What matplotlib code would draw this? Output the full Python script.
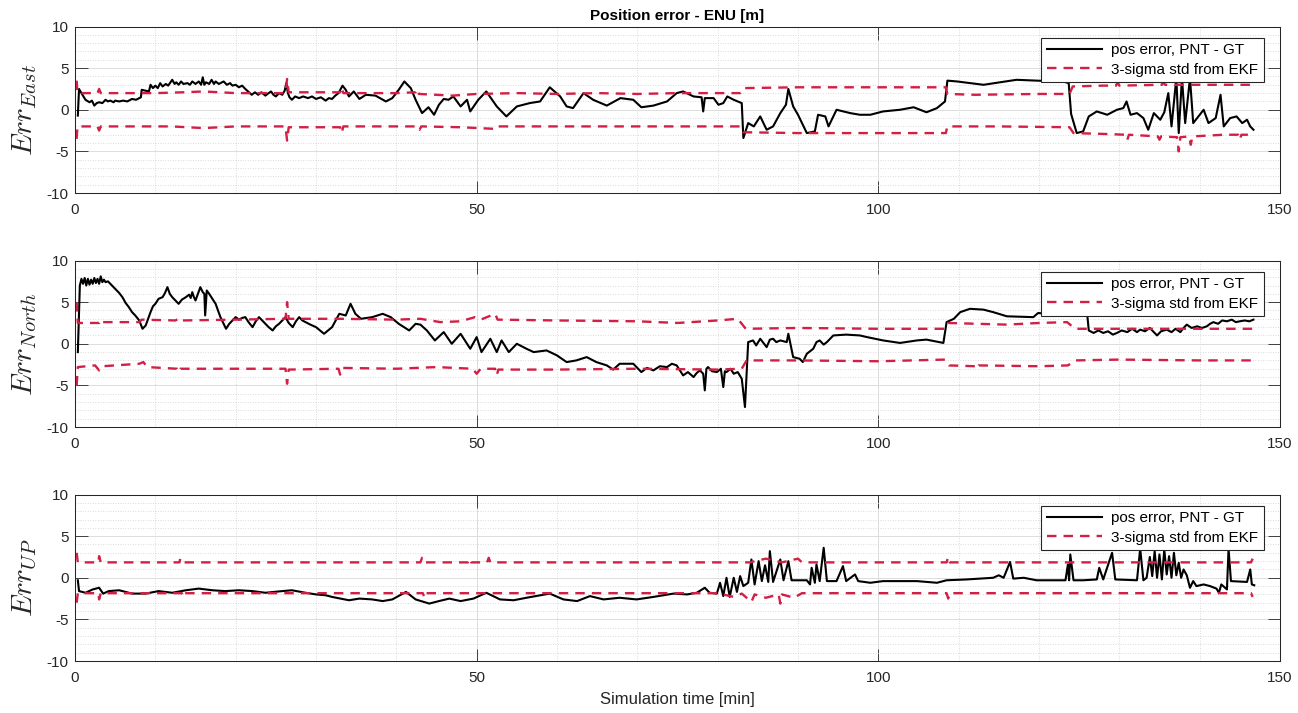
import numpy as np
import matplotlib.pyplot as plt
from matplotlib.ticker import MultipleLocator

plt.rcParams['font.family'] = ['Liberation Sans', 'DejaVu Sans']
plt.rcParams['mathtext.fontset'] = 'cm'
plt.rcParams['axes.unicode_minus'] = False

# (time [min], value [m])
east_err = [
    (0.35, -0.7), (0.5, 2.5), (0.8, 2.0), (1.3, 1.2), (1.8, 0.9), (2.1, 1.1), (2.4, 0.5), (2.7, 0.8),
    (3.0, 0.9), (3.4, 0.8), (3.8, 1.2), (4.1, 1.0), (4.4, 1.1), (4.8, 0.9), (5.0, 1.1), (5.5, 1.0),
    (6.0, 1.1), (6.5, 1.0), (7.1, 1.3), (7.6, 1.2), (8.2, 1.5), (8.3, 2.4), (9.2, 2.2), (9.4, 3.0),
    (9.7, 2.6), (10.0, 2.9), (10.3, 2.6), (10.6, 3.2), (10.9, 2.8), (11.3, 3.1), (11.6, 2.9), (12.1, 3.6),
    (12.4, 3.1), (12.6, 3.3), (12.9, 3.0), (13.2, 3.4), (13.5, 3.1), (14.0, 3.2), (14.3, 3.0), (14.6, 3.4),
    (15.0, 3.1), (15.4, 3.4), (15.7, 3.0), (15.9, 3.9), (16.1, 3.0), (16.3, 3.3), (16.7, 3.1), (17.0, 3.6),
    (17.3, 3.1), (17.5, 3.4), (17.9, 3.1), (18.5, 3.4), (18.9, 3.0), (19.3, 3.2), (19.6, 2.9), (20.0, 3.0),
    (20.4, 2.7), (20.8, 2.9), (21.2, 2.5), (22.0, 1.8), (22.4, 2.1), (22.8, 1.8), (23.2, 2.1), (23.7, 1.7),
    (24.1, 2.0), (24.4, 2.2), (24.7, 1.8), (25.0, 1.6), (25.4, 2.0), (25.8, 1.8), (26.1, 2.3), (26.3, 3.2),
    (26.5, 2.0), (26.7, 1.5), (27.0, 1.2), (27.4, 1.6), (27.9, 1.4), (28.4, 1.6), (29.0, 1.4), (29.5, 1.6),
    (30.0, 1.3), (30.6, 1.5), (31.2, 1.1), (31.6, 1.4), (32.0, 1.3), (32.4, 1.7), (32.8, 2.0), (33.3, 2.9),
    (33.7, 2.4), (34.1, 1.6), (34.7, 2.2), (35.4, 1.3), (36.2, 1.8), (37.4, 1.7), (38.7, 1.0), (39.5, 1.4),
    (40.3, 2.4), (41.0, 3.4), (41.8, 2.6), (42.4, 1.2), (43.2, -0.4), (44.0, 0.3), (44.7, -0.6), (45.3, 0.6),
    (45.9, 1.3), (46.5, 1.2), (47.1, 1.6), (48.0, 0.4), (48.8, 1.2), (49.2, -0.2), (50.2, 1.2), (51.2, 2.2),
    (52.5, 0.4), (53.7, -0.8), (55.0, 0.4), (56.6, 0.8), (57.9, 1.0), (59.1, 2.7), (60.4, 1.6), (61.2, 0.4),
    (62.0, 0.2), (63.3, 2.0), (64.5, 1.2), (66.2, 0.5), (67.9, 1.4), (69.5, 1.2), (70.5, 0.3), (72.0, 0.5),
    (73.7, 1.0), (74.9, 2.0), (75.7, 2.2), (77.0, 1.6), (78.0, 1.5), (78.2, -0.2), (78.4, 1.4), (79.5, 1.4),
    (80.1, 0.6), (80.7, 0.8), (81.2, 1.6), (82.0, 1.2), (83.0, 0.8), (83.2, -3.4), (83.8, -1.6), (84.5, -2.0),
    (85.3, -0.8), (86.1, -2.4), (86.9, -2.0), (87.8, -0.4), (88.5, 0.6), (88.8, 2.5), (89.4, 0.4), (90.0, -0.6),
    (91.1, -2.8), (92.1, -2.6), (92.5, -0.6), (93.4, -0.8), (93.8, -2.0), (94.8, 0.0), (96.5, -0.4), (97.7, -0.6),
    (99.0, -0.6), (100.6, -0.2), (102.7, 0.0), (104.4, 0.3), (106.0, -0.3), (107.3, 0.2), (108.3, 1.0), (108.6, 3.5),
    (109.8, 3.4), (113.1, 3.0), (117.2, 3.6), (119.7, 3.5), (123.0, 3.4), (123.7, 3.2), (124.0, -0.5), (124.7, -2.8),
    (125.5, -2.6), (126.2, -0.8), (127.2, -0.2), (128.5, -0.6), (129.7, 0.0), (130.5, 0.2), (130.9, 1.0), (131.4, -0.6),
    (132.2, -0.4), (133.0, -1.0), (133.6, -2.4), (134.3, -0.4), (135.1, -1.2), (135.6, -0.3), (136.1, 2.0), (136.5, -2.0),
    (137.1, 3.8), (137.4, -2.8), (137.8, 3.8), (138.2, -1.6), (138.8, 3.8), (139.2, -1.6), (140.5, 0.0), (141.1, -1.6),
    (142.0, -1.0), (142.6, 1.8), (143.0, -2.0), (143.8, -1.0), (144.6, -0.8), (145.3, -1.6), (145.9, -1.2), (146.3, -2.0),
    (146.7, -2.4),
]
east_sig_hi = [
    (0.2, 3.5), (0.3, 2.0), (2.8, 2.0), (3.0, 2.5), (3.2, 2.0), (10, 2.0), (13.5, 2.1), (16, 2.2), (20, 2.0),
    (26.2, 2.0), (26.4, 3.7), (26.6, 2.1), (33.0, 2.1), (33.2, 2.7), (33.4, 2.0), (40, 2.0), (42.4, 2.1),
    (42.6, 2.5), (42.8, 1.9), (47, 1.7), (50, 1.9), (55, 2.0), (60, 1.9), (65, 2.0), (70, 1.9), (75, 2.0),
    (80, 2.0), (82.8, 2.0), (83.2, 2.6), (90, 2.7), (100, 2.7), (108.4, 2.7), (108.6, 1.9), (112, 1.8),
    (120, 1.9), (123.8, 1.9), (124.2, 2.8), (128, 2.9), (129.6, 2.9), (129.8, 3.3), (130.0, 2.9), (135.3, 3.0),
    (135.5, 3.3), (135.7, 3.0), (140, 3.0), (146.7, 3.0),
]
east_sig_lo = [
    (0.2, -3.5), (0.3, -2.0), (2.8, -2.0), (3.0, -2.5), (3.2, -2.0), (12, -2.0), (16, -2.2), (20, -2.0),
    (26.2, -2.0), (26.4, -3.7), (26.6, -2.1), (33.0, -2.1), (33.2, -2.8), (33.4, -2.0), (42.7, -2.0),
    (42.9, -2.4), (43.1, -2.0), (48, -2.1), (52.4, -2.3), (52.6, -2.0), (60, -2.0), (70, -2.0), (80, -2.0),
    (82.9, -2.0), (83.2, -2.7), (90, -2.8), (100, -2.8), (108.4, -2.8), (108.6, -2.0), (115, -2.0),
    (123.8, -2.1), (124.3, -2.8), (128, -2.9), (130.8, -3.0), (131.0, -3.6), (131.2, -3.0), (134.8, -3.2),
    (135.0, -3.6), (135.2, -3.2), (137.2, -3.3), (137.4, -5.0), (137.6, -3.3), (138.7, -3.2), (138.9, -4.2),
    (139.1, -3.2), (143, -3.0), (144.8, -3.0), (145.0, -3.6), (145.2, -3.0), (146.7, -3.0),
]

north_err = [
    (0.35, -1.0), (0.6, 7.0), (0.8, 7.8), (1.0, 7.2), (1.2, 7.9), (1.4, 7.0), (1.6, 7.8), (1.8, 7.1),
    (2.0, 7.7), (2.2, 7.2), (2.4, 7.9), (2.6, 7.3), (2.8, 7.8), (3.0, 7.2), (3.2, 8.1), (3.4, 7.4),
    (3.6, 7.7), (3.8, 7.4), (4.1, 7.5), (4.6, 7.0), (5.0, 6.6), (5.5, 6.1), (5.9, 5.6), (6.3, 4.9),
    (6.7, 4.4), (7.1, 3.8), (7.5, 3.4), (8.0, 2.8), (8.4, 1.8), (8.8, 2.2), (9.4, 3.8), (9.7, 4.5),
    (10.0, 4.8), (10.4, 5.4), (10.9, 5.6), (11.2, 6.1), (11.5, 6.8), (11.8, 6.0), (12.1, 5.6), (12.5, 5.2),
    (12.9, 4.8), (13.3, 5.3), (13.8, 5.6), (14.2, 5.9), (14.4, 5.5), (14.6, 6.2), (14.8, 5.6), (15.0, 5.2),
    (15.3, 6.0), (15.6, 6.8), (15.9, 6.2), (16.1, 6.0), (16.2, 3.4), (16.4, 6.4), (16.7, 6.0), (17.1, 5.4),
    (17.5, 4.8), (18.1, 3.2), (18.8, 1.8), (19.2, 2.4), (19.6, 2.8), (20.0, 3.2), (20.4, 2.9), (20.8, 3.1),
    (21.2, 3.2), (21.6, 2.6), (22.1, 2.0), (22.5, 2.7), (22.9, 3.2), (23.3, 2.8), (23.7, 2.4), (24.1, 2.0),
    (24.6, 1.6), (25.0, 2.1), (25.4, 2.4), (25.8, 2.8), (26.2, 3.2), (26.6, 2.5), (27.1, 2.0), (27.5, 2.7),
    (27.9, 3.2), (28.3, 2.8), (28.7, 2.6), (29.3, 2.3), (30.0, 2.0), (30.5, 1.6), (31.0, 1.2), (31.5, 1.6),
    (32.0, 2.0), (32.9, 3.6), (33.7, 3.4), (34.3, 4.8), (34.9, 3.6), (35.6, 3.0), (37.0, 3.2), (38.3, 3.6),
    (39.3, 3.2), (40.3, 2.4), (41.6, 1.6), (42.4, 2.4), (43.0, 2.3), (43.8, 1.6), (44.8, 0.4), (45.9, 1.4),
    (46.9, 0.0), (48.0, 1.2), (49.2, -0.6), (50.0, 0.8), (50.6, -1.0), (51.7, 0.6), (52.5, -1.0), (53.1, 0.4),
    (54.0, -1.0), (55.0, 0.0), (56.2, -0.6), (57.1, -1.0), (58.7, -0.8), (60.0, -1.4), (61.2, -2.2), (62.4, -2.0),
    (63.7, -1.6), (64.9, -2.2), (66.2, -2.6), (67.0, -3.1), (67.8, -2.4), (69.5, -2.4), (70.5, -3.4), (71.2, -2.9),
    (72.0, -3.2), (72.8, -2.7), (73.7, -2.8), (74.3, -2.4), (74.9, -2.6), (75.7, -3.8), (76.3, -3.4), (77.0, -4.0),
    (77.4, -3.5), (77.8, -3.2), (78.2, -3.6), (78.4, -5.6), (78.6, -3.0), (78.8, -2.8), (79.3, -3.3), (79.9, -3.4),
    (80.4, -3.0), (80.7, -5.2), (80.9, -3.3), (81.1, -3.4), (81.6, -3.0), (82.0, -3.6), (82.5, -3.4), (83.0, -4.2),
    (83.4, -7.6), (83.8, 0.2), (84.4, 0.4), (84.8, -0.2), (85.3, 0.6), (85.7, 0.1), (86.1, -0.4), (86.5, 0.5),
    (86.9, 0.6), (87.3, 0.2), (87.8, 0.4), (88.6, 0.2), (88.8, 1.2), (89.4, -1.6), (90.2, -1.8), (90.6, -2.2),
    (91.1, -1.2), (91.9, -0.6), (92.3, 0.2), (92.7, 0.4), (93.2, -0.1), (93.6, 0.2), (94.4, 1.0), (96.0, 1.1),
    (97.7, 1.0), (98.6, 0.8), (100.6, 0.4), (102.7, 0.1), (104.8, 0.4), (106.0, 0.5), (108.1, 0.1), (108.5, 2.6),
    (109.4, 3.0), (110.2, 3.8), (111.4, 4.2), (113.1, 4.1), (114.3, 3.8), (116.0, 3.3), (119.3, 3.2), (119.9, 3.7),
    (121.0, 3.6), (124.0, 3.7), (126.0, 3.6), (126.2, 1.6), (126.8, 1.3), (127.4, 1.6), (128.0, 1.3), (128.6, 1.5),
    (129.2, 1.1), (129.7, 1.3), (130.3, 1.6), (131.0, 1.4), (131.6, 1.8), (132.2, 1.4), (132.6, 1.7), (133.2, 1.5),
    (133.8, 1.9), (134.3, 1.4), (134.7, 1.0), (135.2, 1.5), (135.9, 1.7), (136.5, 1.4), (137.0, 1.8), (137.6, 1.4),
    (138.0, 1.9), (138.4, 2.3), (139.0, 1.9), (139.7, 2.1), (140.3, 1.9), (140.9, 2.1), (141.3, 2.4), (141.7, 2.6),
    (142.3, 2.4), (142.8, 2.8), (143.4, 2.7), (144.0, 2.9), (144.5, 2.6), (145.0, 2.7), (145.6, 2.8), (146.2, 2.7),
    (146.7, 2.9),
]
north_sig_hi = [
    (0.2, 5.0), (0.35, 2.5), (3.0, 2.5), (3.2, 2.9), (3.4, 2.6), (8.0, 2.6), (8.3, 2.9), (12.5, 2.8),
    (13.0, 3.1), (13.3, 2.8), (20, 2.9), (26.2, 3.0), (26.4, 5.0), (26.6, 3.0), (33, 3.0), (40, 2.9),
    (43, 3.0), (45.5, 2.6), (48, 2.7), (49.8, 3.2), (50.5, 2.9), (52.3, 3.6), (52.6, 2.9), (60, 2.8),
    (70, 2.7), (75, 2.5), (80, 2.8), (82.5, 3.0), (83.5, 1.8), (90, 1.9), (100, 1.8), (108.3, 1.8),
    (108.7, 2.5), (112.3, 2.4), (116, 2.3), (120, 2.5), (123.5, 2.6), (124.5, 1.8), (130, 1.8), (140, 1.8),
    (146.7, 1.8),
]
north_sig_lo = [
    (0.2, -5.0), (0.35, -2.8), (2.5, -2.6), (3.0, -3.2), (3.4, -2.7), (8.0, -2.4), (8.5, -2.2), (9.0, -2.8),
    (12.7, -3.0), (12.9, -3.4), (13.1, -3.0), (20, -3.0), (26.2, -3.0), (26.4, -4.8), (26.6, -3.1), (32.8, -3.0),
    (33.0, -3.7), (33.3, -2.9), (40, -3.0), (45, -2.8), (49.5, -3.0), (50.0, -3.6), (50.5, -3.0), (52.3, -3.0),
    (52.5, -3.8), (52.7, -3.1), (60, -3.1), (70, -3.0), (80, -3.1), (83.0, -3.0), (83.6, -2.0), (90, -2.0),
    (100, -2.1), (108.3, -1.9), (108.8, -2.6), (112.1, -2.7), (112.3, -3.0), (112.5, -2.6), (120, -2.7),
    (123.6, -2.6), (124.5, -2.0), (130, -1.9), (140, -2.0), (146.7, -2.0),
]

up_err = [
    (0.35, -0.3), (0.5, -1.6), (1.3, -1.8), (2.2, -1.4), (3.0, -1.2), (3.5, -1.9), (4.2, -1.6), (5.5, -1.5),
    (7.1, -1.9), (8.8, -1.9), (10.4, -1.6), (12.1, -1.8), (13.8, -1.5), (15.4, -1.3), (17.1, -1.5), (18.7, -1.6),
    (20.4, -1.5), (22.1, -1.6), (23.7, -1.8), (25.8, -1.6), (27.0, -1.5), (28.7, -1.8), (30.0, -2.0), (31.2, -2.1),
    (32.0, -2.3), (34.1, -2.7), (35.4, -2.5), (37.0, -2.6), (38.3, -2.8), (39.5, -2.6), (41.2, -1.7), (42.4, -2.6),
    (44.1, -3.1), (45.3, -2.8), (46.6, -2.5), (48.0, -2.8), (49.6, -2.5), (51.2, -1.8), (52.9, -2.6), (54.6, -2.7),
    (56.2, -2.4), (59.1, -1.9), (60.8, -2.6), (62.5, -2.8), (64.1, -2.2), (65.8, -2.6), (67.8, -2.4), (69.9, -2.6),
    (72.0, -2.3), (74.5, -1.9), (76.2, -2.0), (77.4, -1.8), (78.4, -1.2), (79.0, -1.8), (79.9, -1.9), (80.3, -0.6),
    (80.7, -2.2), (81.1, 0.0), (81.5, -2.3), (82.0, 0.0), (82.4, -1.7), (82.8, 0.2), (83.2, -1.0), (83.8, -0.6),
    (84.2, 2.2), (84.6, -0.8), (85.1, 2.0), (85.5, -0.4), (85.9, 1.5), (86.3, -0.5), (86.5, 3.2), (86.9, -0.5),
    (87.8, 2.2), (88.2, -0.3), (88.8, 2.0), (89.2, -0.3), (91.1, -0.3), (91.5, -0.8), (91.7, 1.2), (92.1, -0.6),
    (92.3, 1.6), (92.7, -0.4), (93.2, 3.6), (93.6, -0.4), (94.8, -0.4), (95.6, 1.4), (96.0, -0.4), (97.1, 0.4),
    (97.5, -0.4), (99.0, -0.6), (100.6, -0.4), (104.8, -0.4), (107.3, -0.6), (108.5, -0.3), (111.0, -0.2), (114.3, 0.0),
    (115.0, 0.3), (115.6, 0.0), (116.4, 1.9), (116.8, -0.1), (118.1, 0.0), (119.7, -0.3), (123.3, -0.3), (123.6, 1.6),
    (123.75, -0.3), (123.9, 2.8), (124.3, -0.3), (125.5, -0.3), (127.2, -0.2), (127.5, 1.2), (128.0, -0.2), (129.1, 3.0),
    (129.5, -0.2), (132.2, -0.3), (132.6, 3.5), (133.0, -0.3), (133.4, 0.0), (133.8, 2.5), (134.1, 0.2), (134.4, 3.2),
    (134.7, 0.0), (135.0, 2.8), (135.3, -0.2), (135.6, 3.4), (135.9, 0.4), (136.2, 2.6), (136.5, 0.0), (136.8, 3.0),
    (137.1, 0.3), (137.4, 1.8), (137.7, 0.0), (138.0, 1.0), (138.4, 0.3), (138.8, -1.2), (139.2, -0.4), (139.6, -1.0),
    (140.5, -0.8), (141.3, -1.0), (142.1, -1.3), (142.4, -1.8), (142.7, -0.8), (143.4, -1.4), (143.6, 3.5), (143.9, -0.4),
    (145.9, -0.5), (146.3, 1.0), (146.5, -0.8), (146.8, -0.9),
]
up_sig_hi = [
    (0.2, 3.0), (0.35, 1.85), (2.9, 1.85), (3.0, 2.6), (3.2, 1.85), (13.0, 1.85), (13.1, 2.3), (13.3, 1.85),
    (43.0, 1.85), (43.2, 2.4), (43.4, 1.85), (48.9, 1.85), (49.1, 2.3), (49.3, 1.85), (51.3, 1.85), (51.5, 2.4),
    (51.7, 1.85), (84, 1.85), (86.0, 2.3), (88.0, 1.85), (90.0, 2.3), (90.5, 1.85), (108.5, 1.85), (108.7, 2.5),
    (108.9, 1.85), (146.4, 1.85), (146.6, 2.3),
]
up_sig_lo = [
    (0.2, -3.0), (0.35, -1.85), (2.9, -1.85), (3.0, -2.6), (3.2, -1.85), (13.3, -1.85), (13.5, -2.3), (13.7, -1.85),
    (43.3, -1.85), (43.5, -2.4), (43.7, -1.85), (80, -1.85), (82.0, -2.3), (83.0, -1.9), (84.2, -2.9), (84.6, -2.0),
    (86, -2.4), (87.6, -2.0), (87.8, -3.1), (88.0, -2.0), (89.5, -2.4), (90.5, -1.85), (108.5, -1.85), (108.7, -2.5),
    (108.9, -1.85), (146.4, -1.85), (146.6, -2.3),
]

panels = [
    (r'$Err_{East}$', east_err, east_sig_hi, east_sig_lo),
    (r'$Err_{North}$', north_err, north_sig_hi, north_sig_lo),
    (r'$Err_{UP}$', up_err, up_sig_hi, up_sig_lo),
]

red = '#d21f45'
axcol = '#262626'
fig = plt.figure(figsize=(12.98, 7.13), dpi=100)
bottoms = [0.7293, 0.4011, 0.0729]

for i, (lab, err, hi, lo) in enumerate(panels):
    ax = fig.add_axes([0.0578, bottoms[i], 0.9283, 0.2335])
    t, v = np.array(err).T
    ax.plot(t, v, color='k', lw=1.5, label='pos error, PNT - GT')
    t, v = np.array(hi).T
    ax.plot(t, v, color=red, lw=1.7, dashes=(4, 3), label='3-sigma std from EKF')
    t, v = np.array(lo).T
    ax.plot(t, v, color=red, lw=1.7, dashes=(4, 3))

    ax.set_xlim(0, 150)
    ax.set_ylim(-10, 10)
    ax.set_xticks([0, 50, 100, 150])
    ax.set_yticks([-10, -5, 0, 5, 10])
    ax.xaxis.set_minor_locator(MultipleLocator(10))
    ax.yaxis.set_minor_locator(MultipleLocator(1))
    ax.set_axisbelow(True)
    ax.grid(which='major', color='#dcdcdc', lw=0.7, ls='-')
    ax.grid(which='minor', color='#cfcfcf', lw=0.6, ls=(0, (1, 2)))
    ax.tick_params(which='major', direction='in', length=9, width=0.6, top=True, right=True,
                   color=axcol, labelcolor=axcol, labelsize=11)
    ax.tick_params(axis='x', pad=7)
    ax.tick_params(axis='y', pad=4.5)
    ax.tick_params(which='minor', length=0)
    for s in ax.spines.values():
        s.set_color(axcol)
        s.set_linewidth(0.75)

    ax.set_ylabel(lab, fontsize=21, color=axcol)
    ax.yaxis.set_label_coords(-0.030, 0.5)

    leg = ax.legend(loc='upper right', bbox_to_anchor=(0.9867, 0.934), fontsize=11, fancybox=False,
                    edgecolor=axcol, framealpha=1, handlelength=3.6, borderpad=0.38, labelspacing=0.35,
                    handletextpad=0.6, borderaxespad=0)
    leg.get_frame().set_linewidth(0.8)

    if i == 0:
        ax.set_title('Position error - ENU [m]', fontsize=11, fontweight='bold', pad=5)
    if i == 2:
        ax.set_xlabel('Simulation time [min]', fontsize=12, color=axcol, labelpad=5)

fig.savefig('out.png', dpi=100)
